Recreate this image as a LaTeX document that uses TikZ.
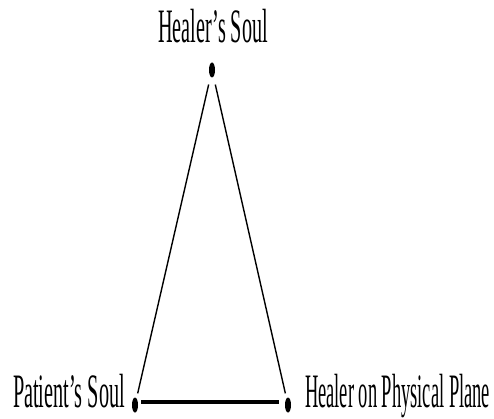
\documentclass[tikz,border=0pt]{standalone}
\usepackage{fontspec}
\setmainfont{Liberation Serif}
\usetikzlibrary{shapes.geometric}
\begin{document}
\begin{tikzpicture}[x=1pt,y=-1pt,
  dot/.style={ellipse,fill=black,inner sep=0pt,minimum width=6pt,minimum height=15pt},
  lab/.style={inner sep=0pt,anchor=base,font=\fontsize{48}{48}\selectfont},
  side/.style={line width=1.4pt,shorten <=8pt,shorten >=5pt},
  base/.style={line width=4pt,shorten <=3pt,shorten >=6pt}]
\useasboundingbox (0,0) rectangle (494,419);
\node[dot] (apex) at (212,70) {};
\node[dot] (pat) at (135,405) {};
\node[dot] (phy) at (288,405) {};
\node[lab] (t1) at (213,43) {\resizebox{110pt}{\height}{Healer's Soul}};
\node[lab] (t2) at (69,407) {\resizebox{112pt}{\height}{Patient's Soul}};
\node[lab] (t3) at (397.5,407) {\resizebox{185pt}{\height}{Healer on Physical Plane}};
\draw[side] (apex) -- (pat);
\draw[side] (apex) -- (phy);
\draw[base] ([yshift=3pt]pat.east) -- ([yshift=3pt]phy.west);
\end{tikzpicture}
\end{document}
